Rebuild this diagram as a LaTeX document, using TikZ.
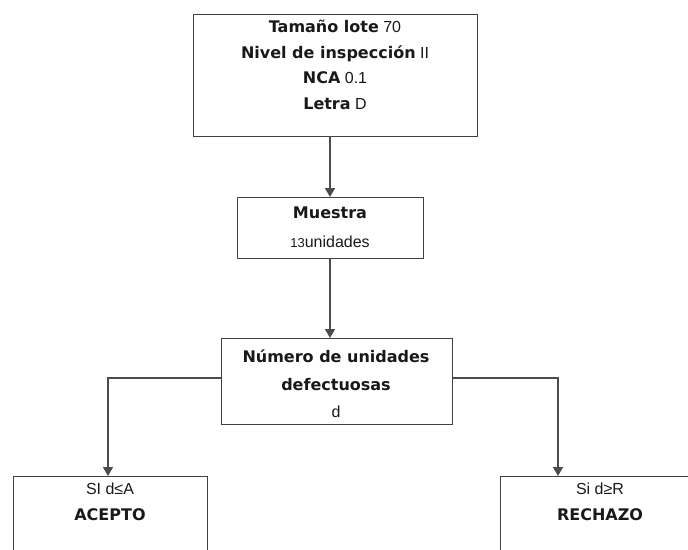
\documentclass[tikz,border=0pt]{standalone}
\usepackage{fontspec}
\setmainfont{Liberation Sans}[BoldFont={DejaVu Sans Bold}]
\usetikzlibrary{arrows.meta}
\begin{document}
\begin{tikzpicture}[x=1pt,y=-1pt,
  box/.style={draw=black!75,line width=1.4pt,inner sep=0pt,anchor=north west},
  txt/.style={align=center,font=\fontsize{16}{25.5}\selectfont,text=black!90,inner sep=0pt},
  conn/.style={draw=black!70,line width=1.6pt},
  arr/.style={conn,-{Triangle[width=10pt,length=9pt]}}]
\useasboundingbox (0,0) rectangle (688,549);
% boxes
\node[box,minimum width=284pt,minimum height=122pt] (top) at (193,14) {};
\node[box,minimum width=186pt,minimum height=61pt] (mue) at (237,197) {};
\node[box,minimum width=231pt,minimum height=86pt] (num) at (221,338) {};
\node[box,minimum width=194pt,minimum height=100pt] (acc) at (13,476) {};
\node[box,minimum width=200pt,minimum height=100pt] (rej) at (500,476) {};
% texts
\node[txt] (toptxt) at (335,65) {\textbf{Tamaño lote} 70\\\textbf{Nivel de inspección} II\\\textbf{NCA} 0.1\\\textbf{Letra} D};
\node[txt] (muetxt) at (330,227) {\textbf{Muestra}\\[4pt]{\fontsize{13}{15}\selectfont 13}unidades};
\node[txt,font=\fontsize{16}{27.5}\selectfont] (numtxt) at (336,384) {\textbf{Número de unidades}\\\textbf{defectuosas}\\d};
\node[txt] (acctxt) at (110,502) {SI d≤A\\\textbf{ACEPTO}};
\node[txt] (rejtxt) at (600,502) {Si d≥R\\\textbf{RECHAZO}};
% connectors
\coordinate (a1) at (330,136);
\coordinate (a2) at (330,258);
\coordinate (lt) at (108,378);
\coordinate (rt) at (558,378);
\draw[arr] (a1) -- (a1 |- mue.north);
\draw[arr] (a2) -- (a2 |- num.north);
\draw[arr] (num.west |- lt) -- (lt) -- (lt |- acc.north);
\draw[arr] (num.east |- rt) -- (rt) -- (rt |- rej.north);
\end{tikzpicture}
\end{document}
